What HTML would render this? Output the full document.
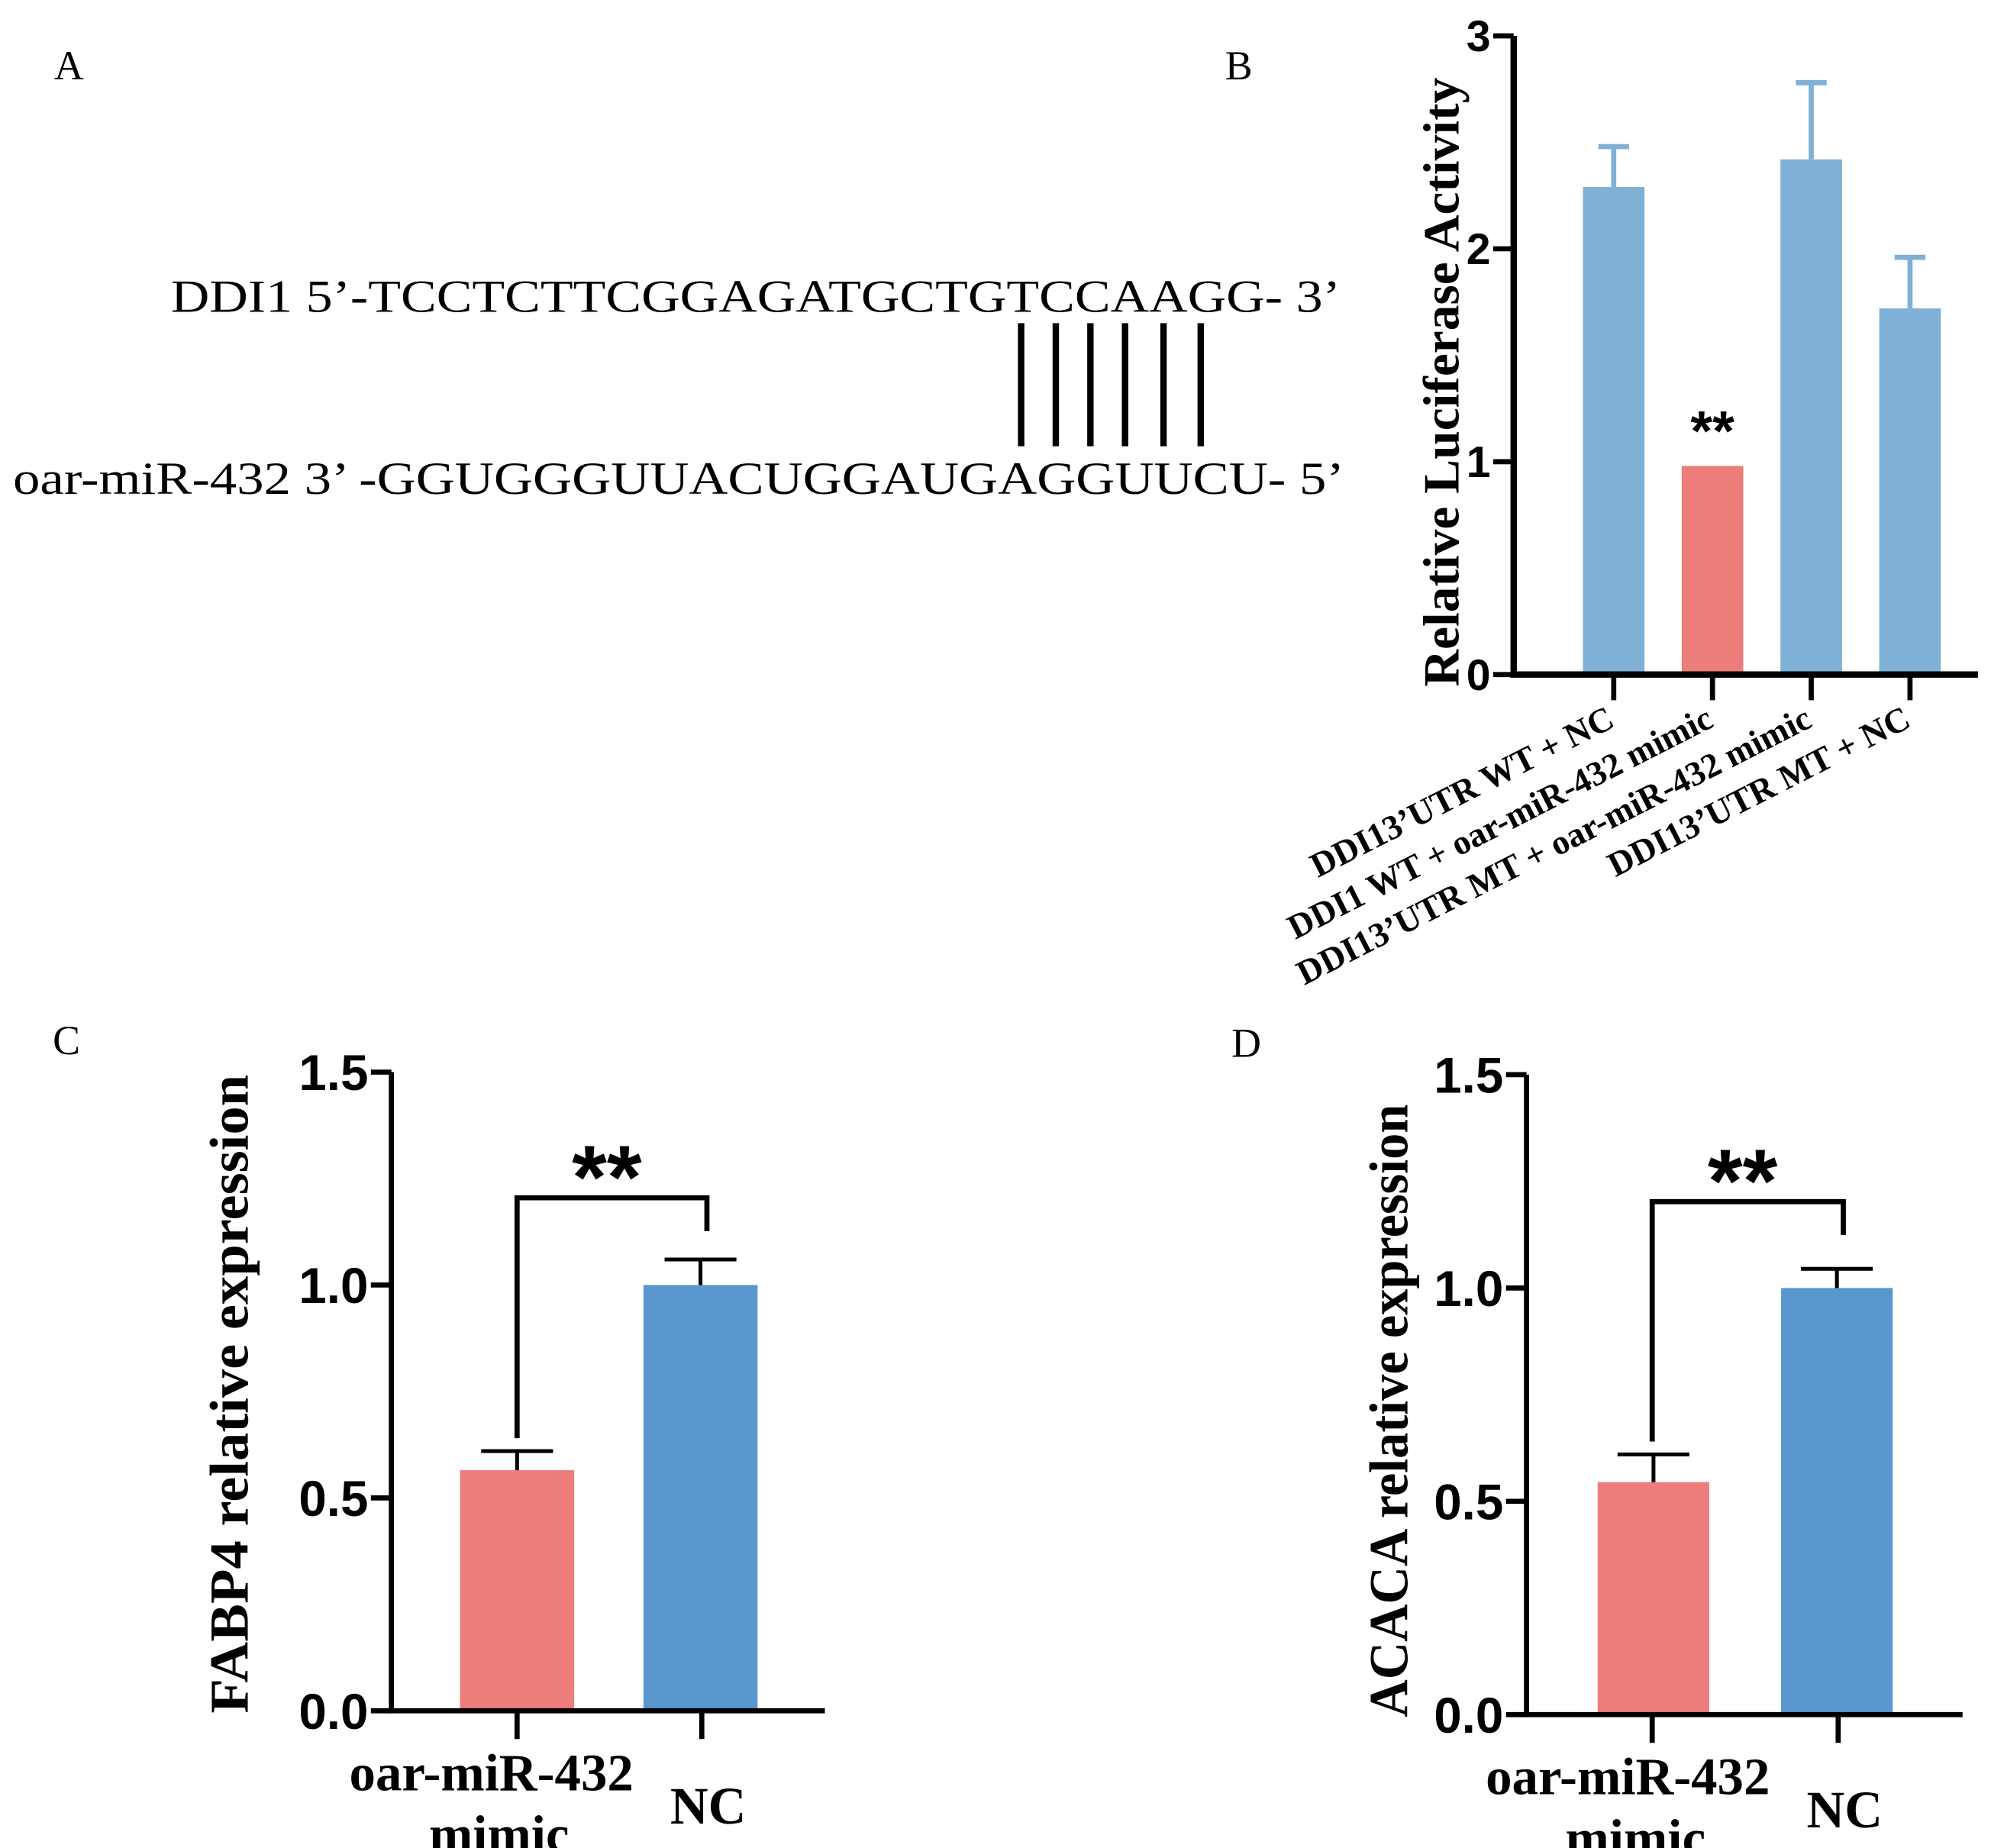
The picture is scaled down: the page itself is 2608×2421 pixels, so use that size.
<!DOCTYPE html>
<html><head><meta charset="utf-8"><style>
html,body{margin:0;padding:0;background:#fff;}
svg{display:block;}
.serif{font-family:"Liberation Serif",serif;}
</style></head><body>
<svg id="fig" width="2608" height="2421" viewBox="0 0 1552 1441" xmlns="http://www.w3.org/2000/svg">
<rect width="1552" height="1441" fill="#fff"/>
<g class="serif" font-size="32" fill="#000">
<text x="42" y="62">A</text>
<text x="955" y="62">B</text>
<text x="41" y="822">C</text>
<text x="960" y="824">D</text>
</g>
<g class="serif" font-size="36" fill="#000">
<text x="133" y="243" textLength="912" lengthAdjust="spacingAndGlyphs">DDI1 5’-TCCTCTTCGGAGATGCTGTCCAAGG- 3’</text>
<text x="10" y="385" textLength="1038" lengthAdjust="spacingAndGlyphs">oar-miR-432 3’  -GGUGGGUUACUGGAUGAGGUUCU- 5’</text>
<g stroke="#000" stroke-width="5">
<line x1="796" y1="252" x2="796" y2="348"/><line x1="823" y1="252" x2="823" y2="348"/><line x1="850" y1="252" x2="850" y2="348"/><line x1="877" y1="252" x2="877" y2="348"/><line x1="907" y1="252" x2="907" y2="348"/><line x1="936" y1="252" x2="936" y2="348"/>
</g>
</g>
<g id="chartB"></g>
<g id="chartC"></g>
<g id="chartD"></g>
</svg>
<script>
const bCategories = ["DDI13’UTR WT + NC","DDI1 WT + oar-miR-432 mimic","DDI13’UTR MT + oar-miR-432 mimic","DDI13’UTR MT + NC"];
const bValues = [2.29, 0.98, 2.42, 1.72];
const bErrors = [0.19, 0, 0.36, 0.24];
const bTicks = [0, 1, 2, 3];
const cCategories = ["oar-miR-432|mimic", "NC"];
const cValues = [0.565, 1.0];
const cErrors = [0.045, 0.06];
const cTicks = ["0.0","0.5","1.0","1.5"];
const dCategories = ["oar-miR-432|mimic", "NC"];
const dValues = [0.545, 1.0];
const dErrors = [0.065, 0.045];
const dTicks = ["0.0","0.5","1.0","1.5"];

const NS = "http://www.w3.org/2000/svg";
function mk(parent, tag, attrs, text){
  const e = document.createElementNS(NS, tag);
  for (const k in attrs) e.setAttribute(k, attrs[k]);
  if (text !== undefined) e.textContent = text;
  parent.appendChild(e);
  return e;
}

// Panel B
(function(){
  const g = document.getElementById('chartB');
  const x0 = 1180, x1 = 1542, yBase = 526, yTop = 28, ymax = 3;
  const y = v => yBase - (v / ymax) * (yBase - yTop);
  const centers = [1258, 1335, 1412, 1489];
  const bw = 48;
  bValues.forEach((v, i) => {
    const cx = centers[i];
    const col = i === 1 ? "#ec7d7a" : "#7fb0d5";
    const r = mk(g, 'rect', {x: cx - bw/2, y: y(v), width: bw, height: yBase - y(v), fill: col});
    
    
    if (bErrors[i] > 0) {
      const e = mk(g, 'path', {d: `M${cx} ${y(v)} V${y(v + bErrors[i])} M${cx-12} ${y(v + bErrors[i])} H${cx+12}`, stroke: col, 'stroke-width': 4, fill: 'none'});
      
      
    }
    const t = mk(g, 'line', {x1: cx, y1: yBase, x2: cx, y2: yBase + 20, stroke: '#000', 'stroke-width': 4});
    
    
    const lbl = mk(g, 'text', {x: cx + 2, y: yBase + 40, 'text-anchor': 'end', 'font-size': 27, 'font-weight': 'bold', 'font-family': '"Liberation Serif",serif', transform: `rotate(-27 ${cx + 2} ${yBase + 40})`}, bCategories[i]);
    
    
  });
  const st = mk(g, 'text', {x: centers[1], y: y(bValues[1]) - 12, 'text-anchor': 'middle', 'font-size': 44, 'font-weight': 'bold', 'font-family': '"Liberation Sans",sans-serif'}, "**");
  
  
  const ax = mk(g, 'path', {d: `M${x0} ${yTop} V${yBase} H${x1}`, stroke: '#000', 'stroke-width': 5, fill: 'none'});
  
  
  bTicks.forEach(t => {
    const tk = mk(g, 'line', {x1: x0 - 16, y1: y(t), x2: x0, y2: y(t), stroke: '#000', 'stroke-width': 4});
    
    
    const tl = mk(g, 'text', {x: x0 - 18, y: y(t) + 12, 'text-anchor': 'end', 'font-size': 34, 'font-weight': 'bold', 'font-family': '"Liberation Sans",sans-serif'}, String(t));
    
    
  });
  const yt = mk(g, 'text', {x: 1137, y: 298, 'text-anchor': 'middle', 'font-size': 40, 'font-weight': 'bold', 'font-family': '"Liberation Serif",serif', transform: 'rotate(-90 1137 298)', textLength: 475, lengthAdjust: 'spacingAndGlyphs'}, "Relative Luciferase Activity");
  
  
})();

function barPanel(id, cats, vals, errs, ticks, cfg){
  const g = document.getElementById(id);
  const y = v => cfg.yBase - (v / 1.5) * (cfg.yBase - cfg.yTop);
  const cols = ["#ec7d7a", "#5b97cf"];
  vals.forEach((v, i) => {
    const cx = cfg.centers[i];
    const r = mk(g, 'rect', {x: cx - cfg.bw/2, y: y(v), width: cfg.bw, height: cfg.yBase - y(v), fill: cols[i]});
    
    
    const e = mk(g, 'path', {d: `M${cx} ${y(v)} V${y(v + errs[i])} M${cx-28} ${y(v + errs[i])} H${cx+28}`, stroke: '#000', 'stroke-width': 3, fill: 'none'});
    
    
    const tickX = cfg.tickX[i];
    const t = mk(g, 'line', {x1: tickX, y1: cfg.yBase, x2: tickX, y2: cfg.yBase + 22, stroke: '#000', 'stroke-width': 4});
    
    
    const parts = cats[i].split('|');
    if (parts.length === 2) {
      const a = mk(g, 'text', {x: cx - 20, y: cfg.yBase + 62, 'text-anchor': 'middle', 'font-size': 41, 'font-weight': 'bold', 'font-family': '"Liberation Serif",serif'}, parts[0]);
      
      
      const b = mk(g, 'text', {x: cx - 14, y: cfg.yBase + 110, 'text-anchor': 'middle', 'font-size': 41, 'font-weight': 'bold', 'font-family': '"Liberation Serif",serif'}, parts[1]);
      
      
    } else {
      const a = mk(g, 'text', {x: cx + 6, y: cfg.yBase + 88, 'text-anchor': 'middle', 'font-size': 41, 'font-weight': 'bold', 'font-family': '"Liberation Serif",serif'}, parts[0]);
      
      
    }
  });
  const br = mk(g, 'path', {d: `M${cfg.tickX[0]} ${y(vals[0]+errs[0]) - 10} V${cfg.brY} H${cfg.tickX[1]+4} V${cfg.brY + 26}`, stroke: '#000', 'stroke-width': 4, fill: 'none'});
  
  
  const st = mk(g, 'text', {x: (cfg.tickX[0] + cfg.tickX[1]) / 2 - 2, y: cfg.brY + 8, 'text-anchor': 'middle', 'font-size': 70, 'font-weight': 'bold', 'font-family': '"Liberation Sans",sans-serif'}, "**");
  
  
  const ax = mk(g, 'path', {d: `M${cfg.x0} ${cfg.yTop} V${cfg.yBase} H${cfg.x1}`, stroke: '#000', 'stroke-width': 4, fill: 'none'});
  
  
  ticks.forEach(t => {
    const v = parseFloat(t);
    const tk = mk(g, 'line', {x1: cfg.x0 - 16, y1: y(v), x2: cfg.x0, y2: y(v), stroke: '#000', 'stroke-width': 4});
    
    
    const tl = mk(g, 'text', {x: cfg.x0 - 18, y: y(v) + 14, 'text-anchor': 'end', 'font-size': 39, 'font-weight': 'bold', 'font-family': '"Liberation Sans",sans-serif'}, t);
    
    
  });
  const yt = mk(g, 'text', {x: cfg.titleX, y: cfg.titleY, 'text-anchor': 'middle', 'font-size': 43, 'font-weight': 'bold', 'font-family': '"Liberation Serif",serif', transform: `rotate(-90 ${cfg.titleX} ${cfg.titleY})`, 'xml:space': 'preserve', textLength: cfg.titleLen, lengthAdjust: 'spacingAndGlyphs'}, cfg.title);
  
  
}

barPanel('chartC', cCategories, cValues, cErrors, cTicks, {x0: 305, x1: 643, yTop: 836, yBase: 1334, centers: [403, 546], bw: 89, tickX: [403, 547], brY: 934, titleX: 193, titleY: 1087, titleLen: 498, title: "FABP4  relative expression"});
barPanel('chartD', dCategories, dValues, dErrors, dTicks, {x0: 1190, x1: 1530, yTop: 838, yBase: 1337, centers: [1289, 1432], bw: 87, tickX: [1288, 1433], brY: 937, titleX: 1097, titleY: 1100, titleLen: 478, title: "ACACA relative expression"});
</script>
</body></html>
